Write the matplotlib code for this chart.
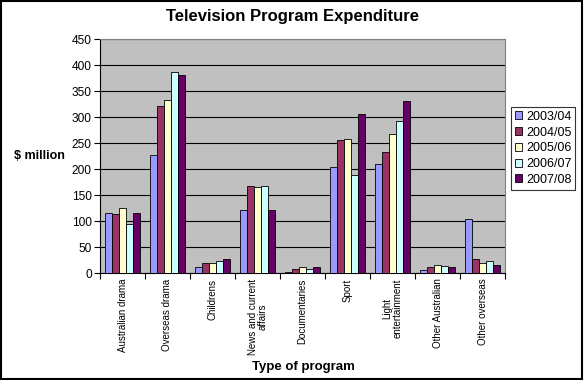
import matplotlib
matplotlib.use("Agg")
import matplotlib.pyplot as plt
import numpy as np

plt.rcParams['font.family'] = ['Liberation Sans', 'DejaVu Sans']

categories = ["Australian drama", "Overseas drama", "Childrens", "News and current\naffairs",
              "Documentaries", "Sport", "Light\nentertainment", "Other Australian", "Other overseas"]
series_names = ["2003/04", "2004/05", "2005/06", "2006/07", "2007/08"]
v2003 = [115, 226, 11, 122, 1, 204, 209, 6, 104]
v2004 = [113, 322, 19, 167, 8, 256, 232, 11, 27]
v2005 = [125, 332, 19, 165, 11, 258, 268, 16, 20]
v2006 = [95, 386, 24, 167, 8, 188, 292, 13, 24]
v2007 = [116, 381, 26, 121, 12, 306, 331, 12, 16]
series = [v2003, v2004, v2005, v2006, v2007]
colors = ["#9999FF", "#993366", "#FFFFCC", "#CCFFFF", "#660066"]

fig = plt.figure(figsize=(5.84, 3.8), dpi=100)
fig.patch.set_facecolor("white")
# outer border
fig.add_artist(plt.Rectangle((0.002, 0.003), 0.994, 0.994, transform=fig.transFigure,
                             fill=False, edgecolor="black", linewidth=1.5))

ax = fig.add_axes([100/584, 1-273/380, 405/584, 234/380])
ax.set_facecolor("#C0C0C0")

n = len(categories)
x = np.arange(n)
bw = 0.155
for i, (vals, c, name) in enumerate(zip(series, colors, series_names)):
    ax.bar(x + (i - 2) * bw, vals, width=bw, color=c, edgecolor="black", linewidth=0.6,
           label=name, zorder=3)

ax.set_xlim(-0.5, n - 0.5)
ax.set_ylim(0, 450)
ax.set_yticks(np.arange(0, 451, 50))
ax.yaxis.grid(True, color="black", linewidth=0.8, zorder=0)
ax.set_axisbelow(True)

ax.set_xticks(np.arange(-0.5, n, 1.0))
ax.set_xticklabels([])
ax.set_xticks(x, minor=True)
ax.set_xticklabels(categories, minor=True, rotation=90, fontsize=7, va="top", ha="center",
                   linespacing=1.0)
ax.tick_params(axis="x", which="minor", length=0, pad=4)
ax.tick_params(axis="x", which="major", length=4, direction="out", color="black")
ax.tick_params(axis="y", length=4, direction="out", labelsize=8.6, pad=2)

for s in ["top", "right"]:
    ax.spines[s].set_color("#808080")
ax.spines["left"].set_color("black")
ax.spines["bottom"].set_color("black")

fig.text(292/584, 1 - 16/380, "Television Program Expenditure",
         ha="center", va="center", fontsize=12, fontweight="bold")
fig.text(14/584, 1 - 156/380, "$ million", ha="left", va="center", fontsize=9, fontweight="bold")
fig.text(303/584, 1 - 367/380, "Type of program", ha="center", va="center", fontsize=9.5,
         fontweight="bold")

leg = ax.legend(loc="upper left", bbox_to_anchor=(511/584, 1 - 107/380), bbox_transform=fig.transFigure,
                fontsize=9, frameon=True, fancybox=False, edgecolor="black", handlelength=0.6,
                handleheight=0.6, handletextpad=0.3, borderpad=0.3, labelspacing=0.3,
                borderaxespad=0)
leg.get_frame().set_linewidth(0.8)

fig.savefig("out.png", dpi=100)
